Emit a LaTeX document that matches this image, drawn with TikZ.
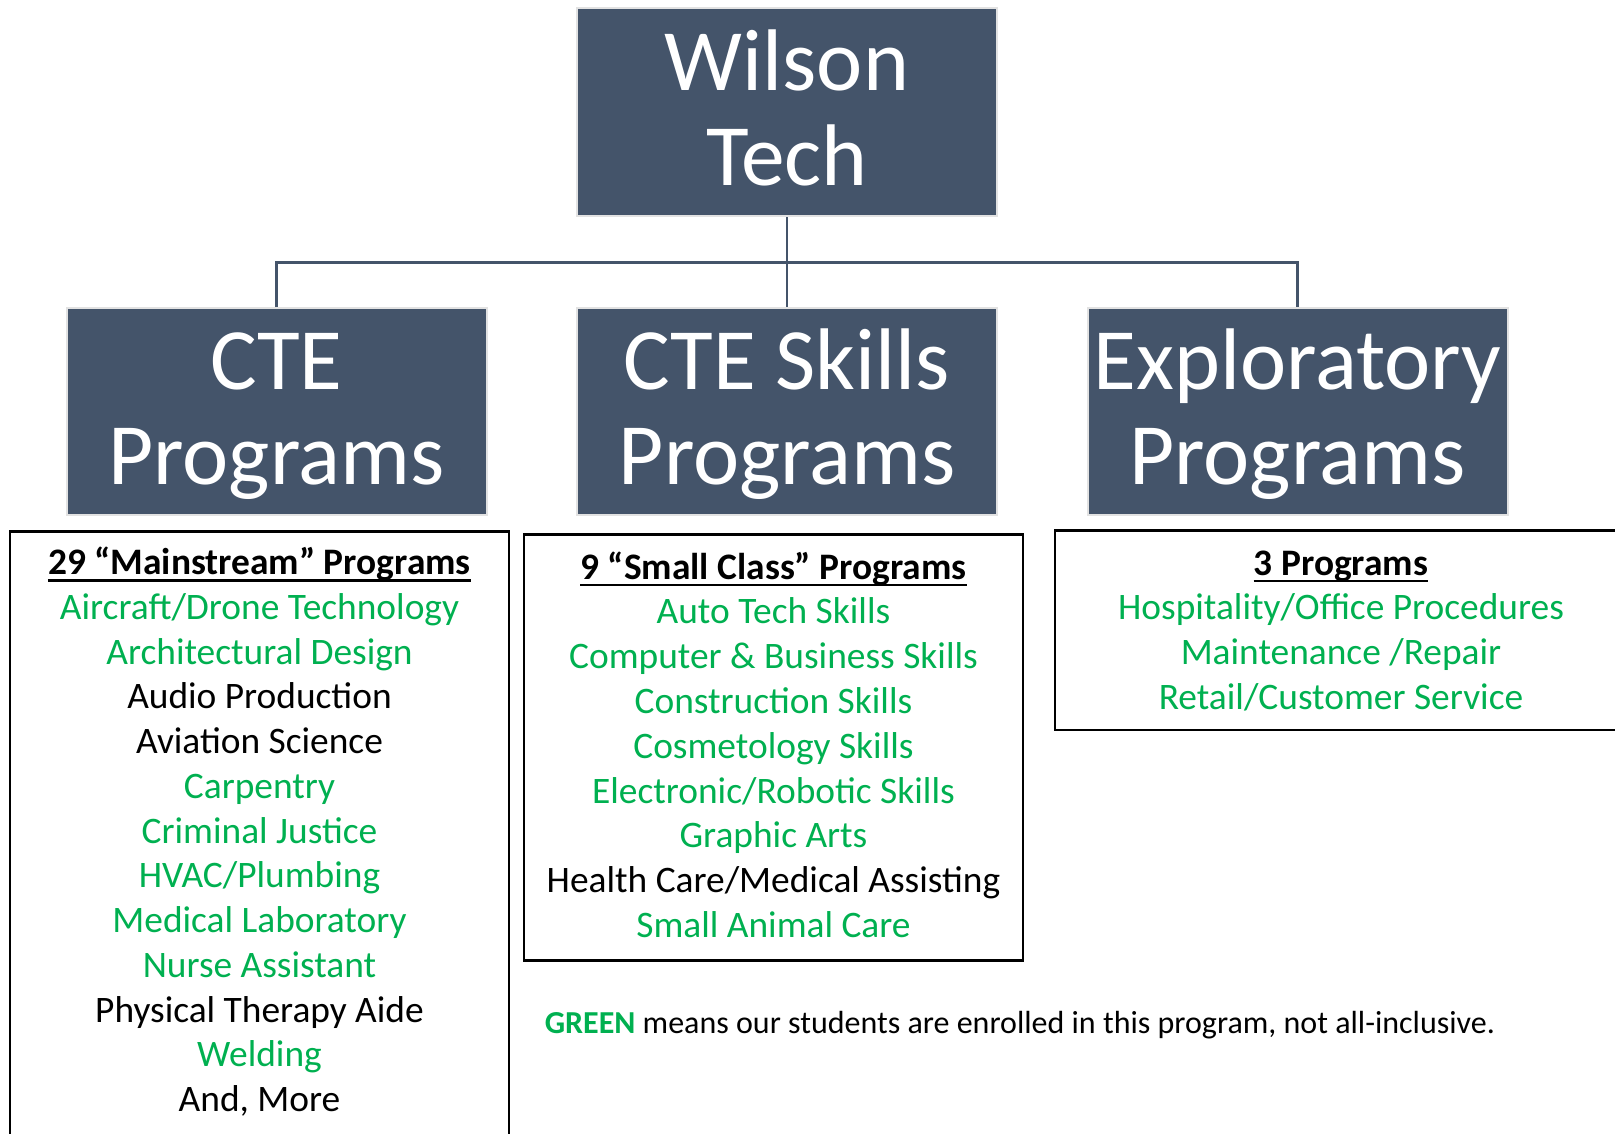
\documentclass[tikz,border=0pt]{standalone}
\usepackage{fontspec}
\setmainfont{Carlito}
\definecolor{boxblue}{HTML}{44546A}
\definecolor{grn}{HTML}{00B050}
\definecolor{edgegray}{HTML}{E2E2E2}
\begin{document}
\begin{tikzpicture}[x=1pt,y=-1pt,
  tbox/.style={rectangle, fill=boxblue, draw=edgegray, line width=2pt, inner sep=0pt},
  ttext/.style={anchor=base, inner sep=0pt, text=white, font=\fontsize{87.5}{95}\selectfont},
  lbox/.style={rectangle, draw=black, line width=2.5pt, inner sep=0pt},
  item/.style={anchor=base, inner sep=0pt, font=\fontsize{37.4}{44}\selectfont},
  gitem/.style={item, text=grn},
  kitem/.style={item, text=black},
  head/.style={item, text=black, font=\fontsize{37.4}{44}\selectfont\bfseries},
  uline/.style={line width=2.2pt},
  conn/.style={draw=boxblue, line width=2.2pt}]
\useasboundingbox (0,0) rectangle (1615,1134);

% title boxes
\node[tbox, minimum width=420pt, minimum height=208pt] (wt) at (787,112.5) {};
\node[tbox, minimum width=420pt, minimum height=207pt] (cte) at (276.5,411.5) {};
\node[tbox, minimum width=420pt, minimum height=207pt] (skills) at (787,411.5) {};
\node[tbox, minimum width=420pt, minimum height=207pt] (expl) at (1297.5,411.5) {};

\node[ttext] (wt1) at (787,91) {Wilson};
\node[ttext] (wt2) at (787,186) {Tech};
\node[ttext] (cte1) at (276.5,389) {CTE};
\node[ttext] (cte2) at (276.5,484) {Programs};
\node[ttext] (sk1) at (787,389) {CTE Skills};
\node[ttext] (sk2) at (787,484) {Programs};
\node[ttext] (ex1) at (1297.5,389) {Exploratory};
\node[ttext] (ex2) at (1297.5,484) {Programs};

% connectors
\coordinate (j) at (787,262.5);
\draw[conn] (wt.south) -- (skills.north);
\draw[conn] (cte.north) -- (cte.north |- j) -- (expl.north |- j) -- (expl.north);

% list boxes
\node[lbox, minimum width=499pt, minimum height=620pt] (lcte) at (259.5,841.7) {};
\node[lbox, minimum width=499pt, minimum height=426pt] (lskills) at (773.5,747.6) {};
\node[lbox, minimum width=580pt, minimum height=199.3pt] (lexpl) at (1345,630.35) {};

% left list
\node[head] (h1) at (259.5,574.5) {29 “Mainstream” Programs};
\draw[uline] ([yshift=-6pt]h1.base west) -- ([yshift=-6pt]h1.base east);
\node[gitem] (a1) at (259.5,619.26) {Aircraft/Drone Technology};
\node[gitem] (a2) at (259.5,664.02) {Architectural Design};
\node[kitem] (a3) at (259.5,708.78) {Audio Production};
\node[kitem] (a4) at (259.5,753.54) {Aviation Science};
\node[gitem] (a5) at (259.5,798.3) {Carpentry};
\node[gitem] (a6) at (259.5,843.06) {Criminal Justice};
\node[gitem] (a7) at (259.5,887.82) {HVAC/Plumbing};
\node[gitem] (a8) at (259.5,932.58) {Medical Laboratory};
\node[gitem] (a9) at (259.5,977.34) {Nurse Assistant};
\node[kitem] (a10) at (259.5,1022.1) {Physical Therapy Aide};
\node[gitem] (a11) at (259.5,1066.86) {Welding};
\node[kitem] (a12) at (259.5,1111.62) {And, More};

% middle list
\node[head] (h2) at (773.5,579.2) {9 “Small Class” Programs};
\draw[uline] ([yshift=-6pt]h2.base west) -- ([yshift=-6pt]h2.base east);
\node[gitem] (b1) at (773.5,623.96) {Auto Tech Skills};
\node[gitem] (b2) at (773.5,668.72) {Computer \& Business Skills};
\node[gitem] (b3) at (773.5,713.48) {Construction Skills};
\node[gitem] (b4) at (773.5,758.24) {Cosmetology Skills};
\node[gitem] (b5) at (773.5,803.0) {Electronic/Robotic Skills};
\node[gitem] (b6) at (773.5,847.76) {Graphic Arts};
\node[kitem] (b7) at (773.5,892.52) {Health Care/Medical Assisting};
\node[gitem] (b8) at (773.5,937.28) {Small Animal Care};

% right list
\node[head] (h3) at (1341,575) {3 Programs};
\draw[uline] ([yshift=-6pt]h3.base west) -- ([yshift=-6pt]h3.base east);
\node[gitem] (c1) at (1341,619.76) {Hospitality/Office Procedures};
\node[gitem] (c2) at (1341,664.52) {Maintenance /Repair};
\node[gitem] (c3) at (1341,709.28) {Retail/Customer Service};

% footer
\node[anchor=base west, inner sep=0pt, font=\fontsize{32}{38}\selectfont] (note) at (544.6,1033)
  {\textbf{\color{grn}GREEN} means our students are enrolled in this program, not all-inclusive.};
\end{tikzpicture}
\end{document}
